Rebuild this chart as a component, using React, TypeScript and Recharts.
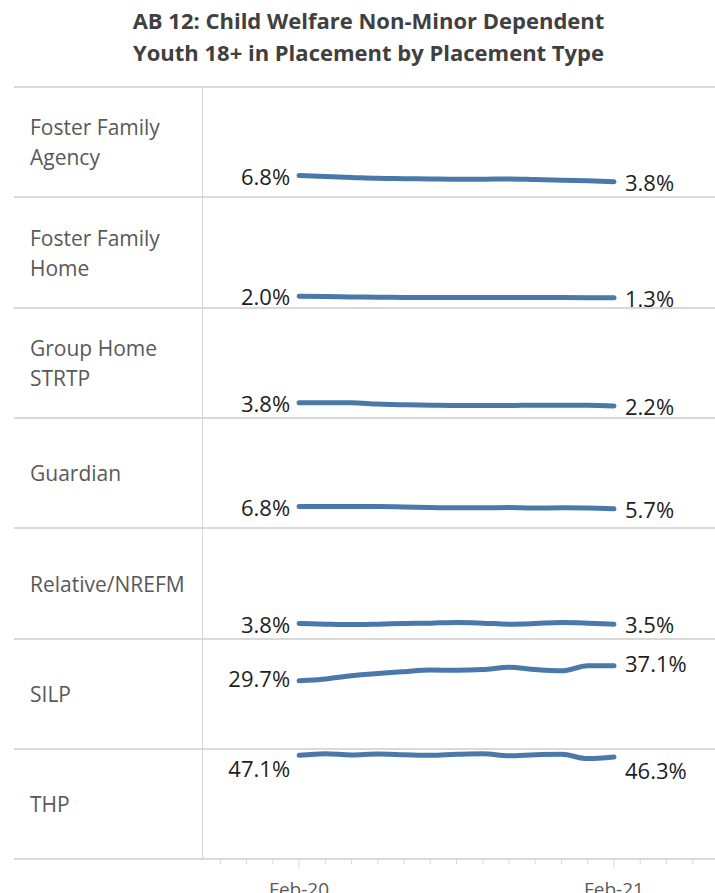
import { LineChart, Line, XAxis, YAxis, LabelList } from 'recharts';

const months = [
  'Feb-20', 'Mar-20', 'Apr-20', 'May-20', 'Jun-20', 'Jul-20', 'Aug-20',
  'Sep-20', 'Oct-20', 'Nov-20', 'Dec-20', 'Jan-21', 'Feb-21',
];

const categories = [
  ['Foster Family', 'Agency'],
  ['Foster Family', 'Home'],
  ['Group Home', 'STRTP'],
  ['Guardian'],
  ['Relative/NREFM'],
  ['SILP'],
  ['THP'],
];

// percent of NMD youth in each placement type, monthly
const fosterFamilyAgency = [6.8, 6.35, 5.9, 5.45, 5.3, 5.15, 5.0, 5.0, 5.15, 4.85, 4.55, 4.25, 3.8];
const fosterFamilyHome = [2.0, 1.85, 1.7, 1.5, 1.45, 1.4, 1.4, 1.4, 1.4, 1.4, 1.35, 1.3, 1.3];
const groupHomeStrtp = [3.8, 3.8, 3.75, 3.1, 2.8, 2.6, 2.4, 2.4, 2.4, 2.6, 2.5, 2.6, 2.2];
const guardian = [6.8, 6.8, 6.8, 6.8, 6.65, 6.35, 6.2, 6.2, 6.35, 6.05, 6.2, 6.15, 5.7];
const relative = [3.8, 3.5, 3.3, 3.5, 3.8, 4.0, 4.3, 4.0, 3.5, 3.8, 4.3, 4.0, 3.5];
const silp = [29.7, 30.6, 32.2, 33.3, 34.2, 35.0, 34.9, 35.2, 36.3, 35.2, 34.6, 37.1, 37.1];
const thp = [47.1, 47.9, 47.3, 47.7, 47.4, 47.1, 47.6, 47.9, 46.9, 47.4, 47.6, 45.5, 46.3];

const seriesList = [fosterFamilyAgency, fosterFamilyHome, groupHomeStrtp, guardian, relative, silp, thp];

const minorTicks = [-3, -2, -1, 0, 1, 2, 3, 4, 5, 6, 7, 8, 9, 10, 11, 12, 13, 14, 15];

// label nudges (px) for end labels, by panel
const labelShift = [0, 0, 0, 0, 0, -3, 13];

const W = 715;
const H = 893;
const TOP = 87;
const PANEL = 110.33;
const LEFT = 202;
const X_DOMAIN: [number, number] = [-3.7, 15.85];
const Y_DOMAIN: [number, number] = [-3.7, 50.2];
const BLUE = '#4a78a9';
const GRID = '#d9d9d9';
const FONT = '"Open Sans", "Noto Sans", sans-serif';

function MonthTick(props: any) {
  const { x, y, payload } = props;
  const major = payload.value === 0 || payload.value === 12;
  return (
    <g>
      <line x1={x} x2={x} y1={y} y2={y + (major ? 10 : 5)} stroke={GRID} strokeWidth={1} />
      {major && (
        <text x={x} y={y + 37} textAnchor="middle" fill="#595959" fontSize={19} fontFamily={FONT}>
          {months[payload.value]}
        </text>
      )}
    </g>
  );
}

function Panel({ series, idx, top, height, last }: any) {
  const data = months.map((m, i) => ({ idx: i, month: m, value: series[i] }));
  const shift = labelShift[idx];
  const renderLabel = (p: any) => {
    const { x, y, index, value } = p;
    if (index !== 0 && index !== months.length - 1) return null;
    const first = index === 0;
    return (
      <text
        x={first ? x - 9 : x + 11}
        y={y + shift}
        textAnchor={first ? 'end' : 'start'}
        dominantBaseline="central"
        fill="#1e1e1e"
        fontSize={22}
        fontFamily={FONT}
      >
        {Number(value).toFixed(1)}%
      </text>
    );
  };
  return (
    <div style={{ position: 'absolute', left: LEFT, top, width: W - LEFT, height: last ? height + 40 : height }}>
      <LineChart
        width={W - LEFT}
        height={last ? height + 40 : height}
        data={data}
        margin={{ top: 0, right: 0, bottom: 0, left: 0 }}
        style={{ overflow: 'visible' }}
      >
        <XAxis
          dataKey="idx"
          type="number"
          domain={X_DOMAIN}
          ticks={minorTicks}
          hide={!last}
          height={40}
          axisLine={false}
          tickLine={false}
          tickSize={0}
          tickMargin={0}
          interval={0}
          tick={<MonthTick />}
        />
        <YAxis hide domain={Y_DOMAIN} />
        <Line
          type="monotone"
          dataKey="value"
          stroke={BLUE}
          strokeWidth={5}
          strokeLinecap="round"
          dot={false}
          isAnimationActive={false}
        >
          <LabelList dataKey="value" content={renderLabel} />
        </Line>
      </LineChart>
    </div>
  );
}

export default function App() {
  const tops = Array.from({ length: categories.length + 1 }, (_, i) => Math.round(TOP + i * PANEL));
  return (
    <div
      style={{
        position: 'absolute',
        left: 0,
        top: 0,
        width: W,
        height: H,
        overflow: 'hidden',
        background: '#fff',
        fontFamily: FONT,
      }}
    >
      <div
        style={{
          position: 'absolute',
          left: 0,
          top: 4,
          width: 737,
          textAlign: 'center',
          fontWeight: 700,
          fontSize: 22,
          lineHeight: '32px',
          color: '#404040',
        }}
      >
        AB 12: Child Welfare Non-Minor Dependent
        <br />
        Youth 18+ in Placement by Placement Type
      </div>

      {tops.map((t, i) => (
        <div
          key={'h' + i}
          style={{ position: 'absolute', left: 14, top: t - 1, width: W - 14, height: 2, background: GRID }}
        />
      ))}
      <div
        style={{ position: 'absolute', left: LEFT, top: TOP, width: 1, height: tops[tops.length - 1] - TOP, background: GRID }}
      />

      {categories.map((lines, i) => (
        <div
          key={'l' + i}
          style={{
            position: 'absolute',
            left: 30,
            top: tops[i],
            height: tops[i + 1] - tops[i],
            display: 'flex',
            alignItems: 'center',
            fontSize: 21,
            lineHeight: '30px',
            color: '#595959',
          }}
        >
          <div>
            {lines.map((s) => (
              <div key={s}>{s}</div>
            ))}
          </div>
        </div>
      ))}

      {seriesList.map((s, i) => (
        <Panel
          key={'p' + i}
          series={s}
          idx={i}
          top={tops[i]}
          height={tops[i + 1] - tops[i]}
          last={i === seriesList.length - 1}
        />
      ))}
    </div>
  );
}
